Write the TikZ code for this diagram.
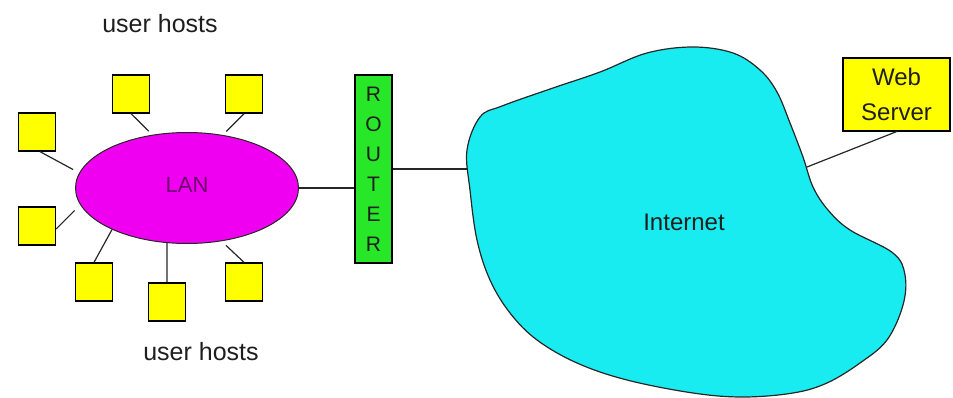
\documentclass[tikz,border=0pt]{standalone}
\usepackage{fontspec}
\setmainfont{Liberation Sans}
\usetikzlibrary{shapes.geometric}
\definecolor{hostyellow}{RGB}{255,255,0}
\definecolor{lanmag}{RGB}{240,0,240}
\definecolor{netcyan}{RGB}{24,236,240}
\definecolor{routgreen}{RGB}{40,230,40}
\definecolor{txt}{RGB}{30,30,30}
\definecolor{lantxt}{RGB}{110,0,110}
\tikzset{
  host/.style={draw=black, line width=1.3pt, fill=hostyellow, minimum width=37pt, minimum height=38pt, inner sep=0pt},
  link/.style={draw=black!85, line width=1.2pt},
  lbl/.style={text=txt, font=\fontsize{25}{30}\selectfont, inner sep=0pt, anchor=base},
}
\begin{document}
\begin{tikzpicture}[x=1pt,y=-1pt]
\useasboundingbox (0,0) rectangle (953,398);
% Internet cloud
\draw[black!85, line width=1.2pt, fill=netcyan]
  plot[smooth cycle, tension=0.6] coordinates {
  (467,150) (480,117) (502,106) (553,88) (600,72) (647,53) (693,47) (733,53)
  (760,70) (777,92) (790,123) (803,157) (813,187) (828,210) (850,230) (893,253)
  (905,275) (903,305) (887,340) (860,363) (827,383) (793,393) (743,397) (693,393)
  (627,380) (577,363) (537,340) (510,313) (490,280) (477,240) (470,190)};
\coordinate (inetW) at (467,169);
\coordinate (inetE) at (807,167);
\node[lbl, font=\fontsize{24}{28}\selectfont] (inet) at (684,230) {Internet};

% LAN
\node[ellipse, draw=black!85, line width=1pt, fill=lanmag, minimum width=223pt, minimum height=111pt, inner sep=0pt,
      text=lantxt, font=\fontsize{22}{26}\selectfont, text depth=7pt] (lan) at (187,188) {LAN};

% hosts
\node[host] (s1) at (131,94) {};
\node[host] (s2) at (244,94) {};
\node[host] (s3) at (37,132) {};
\node[host] (s4) at (37,226) {};
\node[host] (s5) at (94,282) {};
\node[host] (s6) at (167,302) {};
\node[host] (s7) at (244,282) {};

\draw[link, shorten >=5pt] (s1.south) -- (lan.123);
\draw[link, shorten >=5pt] (s2.south) -- (lan.56);
\draw[link, shorten >=7pt] (s3.south) ++(3pt,0) coordinate (s3a) (s3a) -- (lan.172);
\draw[link, shorten >=8pt] (s4.east) ++(0,-3pt) coordinate (s4a) (s4a) -- (lan.189);
\draw[link] (s5.north) -- (lan.209);
\draw[link] (s6.north) -- (lan.250);
\draw[link, shorten >=6pt] (s7.north) -- (lan.303);

% router
\node[draw=black, line width=1.3pt, fill=routgreen, minimum width=37pt, minimum height=188pt, inner sep=0pt,
      align=center, text=txt, font=\fontsize{21}{30}\selectfont] (router) at (373.5,169) {R\\O\\U\\T\\E\\R};
\draw[link] (lan.east) -- (lan.east -| router.west);
\draw[link] (router.east |- inetW) -- (inetW);

% web server
\node[draw=black, line width=1.3pt, fill=hostyellow, minimum width=107pt, minimum height=73pt, inner sep=0pt,
      align=center, text=txt, font=\fontsize{24}{35}\selectfont] (web) at (896.5,94.5) {Web\\Server};
\draw[link] (web.south) -- (inetE);

% labels
\node[lbl] (uh1) at (160,33) {user hosts};
\node[lbl] (uh2) at (201,360) {user hosts};
\end{tikzpicture}
\end{document}
